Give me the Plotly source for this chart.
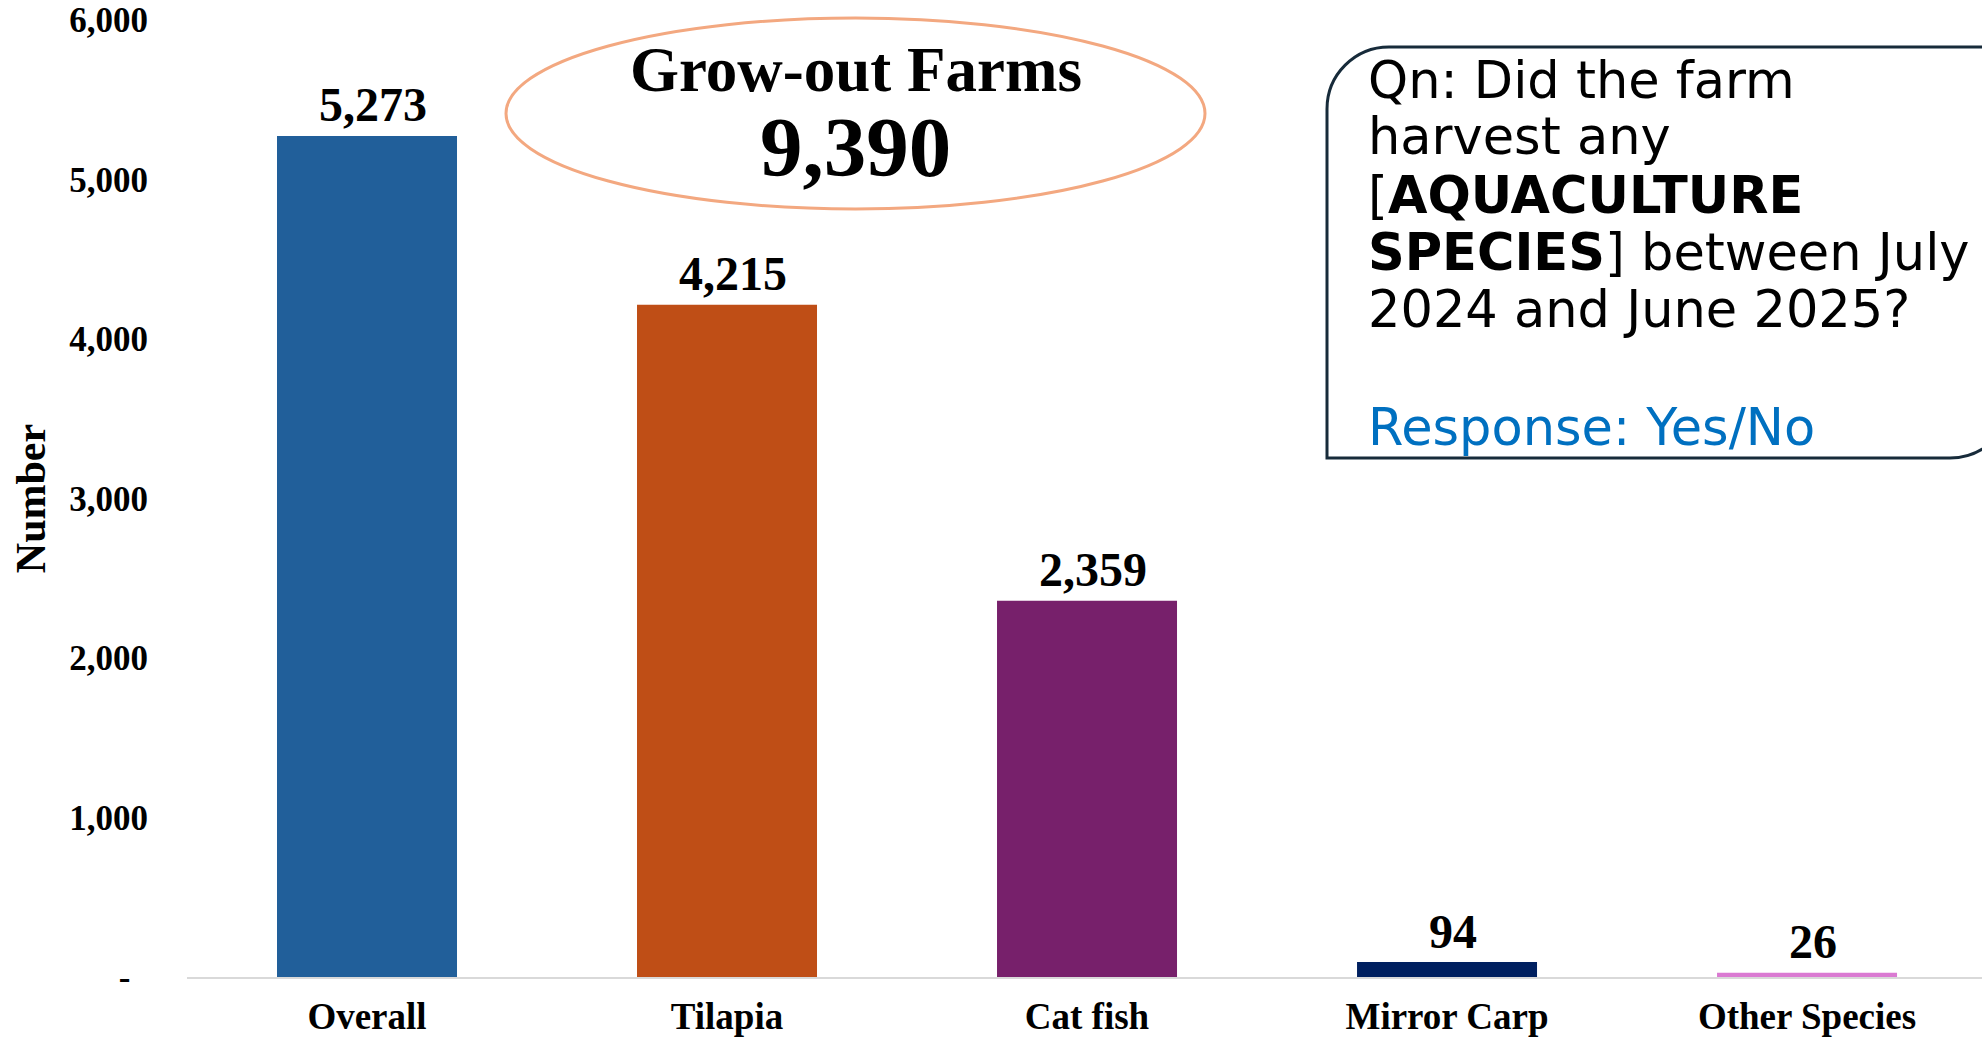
import plotly.graph_objects as go

categories = ["Overall", "Tilapia", "Cat fish", "Mirror Carp", "Other Species"]
values = [5273, 4215, 2359, 94, 26]
bar_colors = ["#215F9A", "#BF4E16", "#77206B", "#002060", "#DA7AD2"]
tick_vals = [0, 1000, 2000, 3000, 4000, 5000, 6000]
tick_text = ["-\u00a0\u00a0", "1,000", "2,000", "3,000", "4,000", "5,000", "6,000"]
total_label = "Grow-out Farms"
total_value = "9,390"
question_lines = [
    "Qn: Did the farm",
    "harvest any",
    "[<b>AQUACULTURE</b>",
    "<b>SPECIES</b>] between July",
    "2024 and June 2025?",
    "<span style='color:#0070C0'>Response: Yes/No</span>",
]
question_line_y = [80, 137, 195, 252, 310, 427]  # pixel rows of each line centre

W, H = 1982, 1039
ML, MR, MT, MB = 187, 0, 20, 62
PW = W - ML - MR
PH = H - MT - MB


def px(x):
    return (x - ML) / PW


def py(y):
    return (H - MB - y) / PH


SERIF = "Liberation Serif"

fig = go.Figure()
fig.add_trace(go.Bar(
    x=categories, y=values,
    marker=dict(color=bar_colors, line=dict(width=0)),
    cliponaxis=False, showlegend=False, hoverinfo="x+y",
))
for c, v in zip(categories, values):
    fig.add_annotation(x=c, y=v, text=f"{v:,}", showarrow=False,
                       xanchor="center", yanchor="middle", yshift=31, xshift=6,
                       font=dict(family=SERIF, size=48, color="black", weight="bold"))

# Ellipse
fig.add_shape(type="circle", xref="paper", yref="paper",
              x0=px(506), x1=px(1205), y0=py(209), y1=py(18),
              line=dict(color="rgb(243,168,128)", width=3), layer="above")
fig.add_annotation(xref="paper", yref="paper", x=px(856), y=py(70),
                   text=total_label, showarrow=False, xanchor="center", yanchor="middle",
                   font=dict(family=SERIF, size=63, color="black", weight="bold"))
fig.add_annotation(xref="paper", yref="paper", x=px(855), y=py(147),
                   text=total_value, showarrow=False, xanchor="center", yanchor="middle",
                   font=dict(family=SERIF, size=85, color="black", weight="bold"))

# Rounded text box
L, T, B, R, r = 1327, 47, 458, 2012, 62
k = 0.5523 * r
path = (f"M {px(L)},{py(B)} L {px(L)},{py(T + r)} "
        f"C {px(L)},{py(T + r - k)} {px(L + r - k)},{py(T)} {px(L + r)},{py(T)} "
        f"L {px(R)},{py(T)} L {px(R)},{py(B - r)} "
        f"C {px(R)},{py(B - r + k)} {px(R - r + k)},{py(B)} {px(R - r)},{py(B)} Z")
fig.add_shape(type="path", xref="paper", yref="paper", path=path,
              line=dict(color="#172B3A", width=3), fillcolor="white", layer="below")
for line, yy in zip(question_lines, question_line_y):
    fig.add_annotation(xref="paper", yref="paper", x=px(1366), y=py(yy),
                       text=line, showarrow=False,
                       xanchor="left", yanchor="middle", align="left",
                       font=dict(family="DejaVu Sans", size=51, color="black"))

fig.update_layout(
    width=W, height=H,
    margin=dict(l=ML, r=MR, t=MT, b=MB, autoexpand=False),
    paper_bgcolor="white", plot_bgcolor="white",
    bargap=0.5,
    xaxis=dict(range=[-0.5, 4.486], showline=True, linecolor="#D9D9D9", linewidth=2,
               showgrid=False, ticks="", ticklabelstandoff=6,
               tickfont=dict(family=SERIF, size=37, color="black", weight="bold")),
    yaxis=dict(range=[0, 6000], tickvals=tick_vals, ticktext=tick_text,
               showgrid=False, zeroline=False, showline=False, ticks="",
               ticklabelstandoff=38,
               tickfont=dict(family=SERIF, size=35, color="black", weight="bold"),
               title=dict(text="Number", standoff=10,
                          font=dict(family=SERIF, size=42, color="black", weight="bold"))),
)

fig.write_html(
    "out.html",
    config={"displayModeBar": False},
    post_script="document.body.style.margin='0';"
                "document.body.style.overflow='hidden';"
                "document.documentElement.style.overflow='hidden';",
)
